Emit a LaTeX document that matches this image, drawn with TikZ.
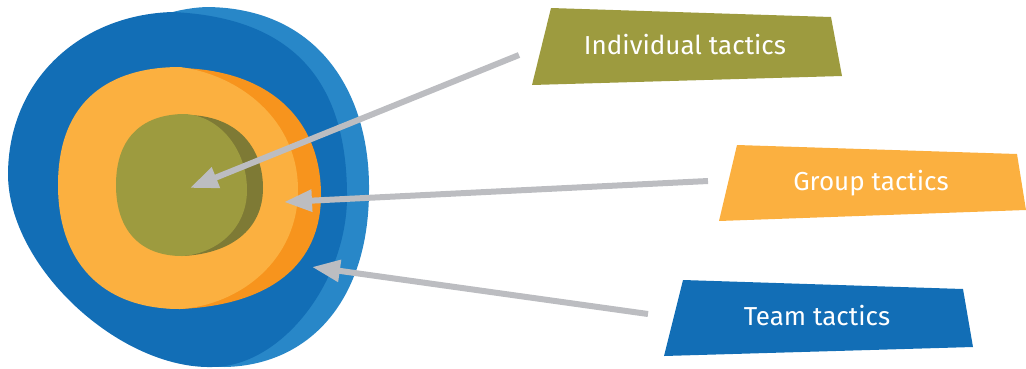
\documentclass[tikz,border=0pt]{standalone}
\usepackage{fontspec}
\setmainfont{Fira Sans}
\usetikzlibrary{arrows.meta}
\definecolor{dblue}{HTML}{126EB6}
\definecolor{lblue}{HTML}{2887C8}
\definecolor{lorange}{HTML}{FBB040}
\definecolor{dorange}{HTML}{F7941D}
\definecolor{olive}{HTML}{9D9B3F}
\definecolor{dolive}{HTML}{7E7A35}
\definecolor{agray}{HTML}{BCBDC1}
\tikzset{
  label/.style={text=white,font=\fontsize{26}{30}\selectfont,inner sep=0pt,anchor=base},
  pointer/.style={draw=agray,line width=6pt,-{Triangle[length=28pt,width=21pt]}},
}
\begin{document}
\begin{tikzpicture}[x=1pt,y=-1pt]
\useasboundingbox (0,0) rectangle (1026,368);
% outer blob: light blue crescent, dark blue body
\fill[lblue] (30,175) .. controls (30,90) and (120,10) .. (207,7)
  .. controls (320,8) and (370,95) .. (369,190)
  .. controls (369,300) and (310,365) .. (225,367)
  .. controls (130,367) and (30,260) .. cycle;
\fill[dblue] (8,175) .. controls (8,80) and (80,15) .. (172,12)
  .. controls (310,18) and (348,100) .. (347,200)
  .. controls (345,285) and (280,367) .. (212,367)
  .. controls (120,369) and (9,268) .. cycle;
% orange
\fill[dorange] (180,68) .. controls (270,70) and (321,120) .. (321,195)
  .. controls (321,265) and (270,305) .. (180,309)
  .. controls (110,309) and (90,250) .. (90,190)
  .. controls (90,120) and (130,75) .. cycle;
\fill[lorange] (58,185) .. controls (58,100) and (110,67) .. (180,67)
  .. controls (240,75) and (298,120) .. (298,190)
  .. controls (298,260) and (240,305) .. (180,309)
  .. controls (100,309) and (58,260) .. cycle;
% olive
\fill[dolive] (190,115) .. controls (240,117) and (263,150) .. (263,188)
  .. controls (263,230) and (230,254) .. (182,256)
  .. controls (150,256) and (140,220) .. (140,185)
  .. controls (140,140) and (165,125) .. cycle;
\fill[olive] (116,185) .. controls (116,135) and (145,114) .. (185,114)
  .. controls (220,116) and (247,150) .. (247,190)
  .. controls (247,230) and (215,254) .. (182,256)
  .. controls (140,256) and (116,230) .. cycle;
% boxes
\fill[olive] (551,8) -- (831,17) -- (842,76) -- (532,85) -- cycle;
\fill[lorange] (737,145) -- (1017,154) -- (1026,210) -- (719,221) -- cycle;
\fill[dblue] (683,280) -- (963,289) -- (973,347) -- (664,356) -- cycle;
\node[label] (ind) at (685,54) {Individual tactics};
\node[label] (grp) at (871,190) {Group tactics};
\node[label] (team) at (817,325) {Team tactics};
% connector ends
\coordinate (s1) at (519,55);
\coordinate (s2) at (708,181);
\coordinate (s3) at (648,314);
\coordinate (t1) at (190,188);
\coordinate (t2) at (284,202);
\coordinate (t3) at (312,267);
\draw[pointer] (s1) -- (t1);
\draw[pointer] (s2) -- (t2);
\draw[pointer] (s3) -- (t3);
\end{tikzpicture}
\end{document}
